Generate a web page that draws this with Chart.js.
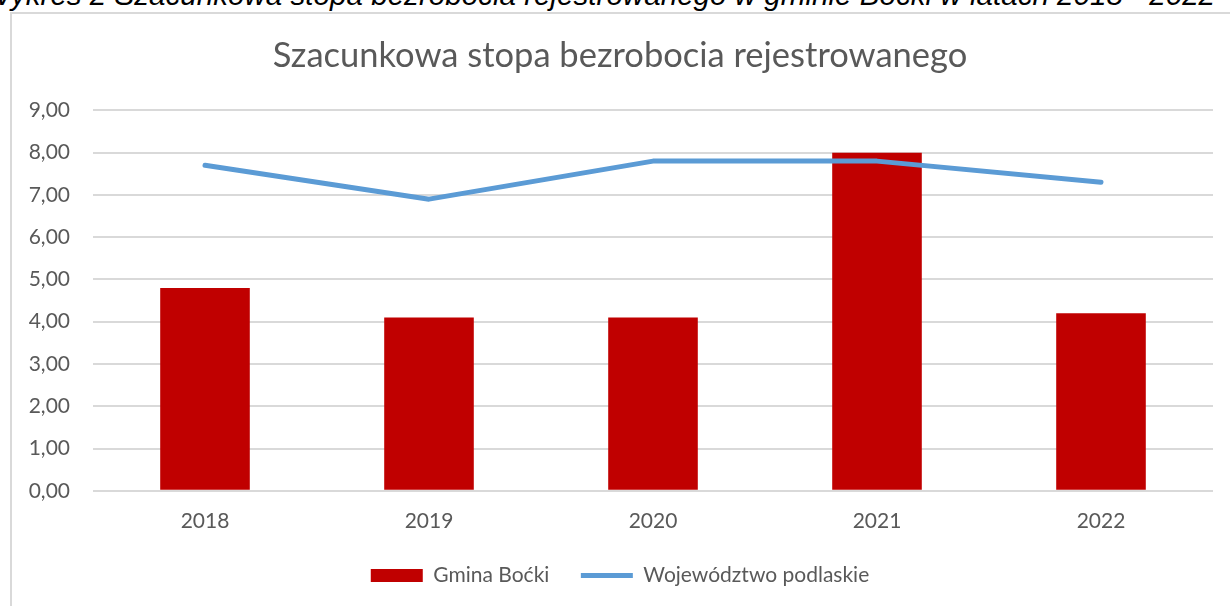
<!DOCTYPE html>
<html lang="pl">
<head>
<meta charset="utf-8">
<script src="https://cdn.jsdelivr.net/npm/chart.js@4"></script>
<style>
  html, body { margin: 0; padding: 0; background: #fff; overflow: hidden; width: 1230px; height: 606px; }
  .caption {
    position: absolute; left: -17px; top: -20px; white-space: nowrap;
    font: italic 29.6px/30px "Liberation Sans", Arial, sans-serif; color: #000;
  }
  .frame {
    position: absolute; left: 10px; top: 12px; width: 1240px; height: 610px;
    border: 2px solid #d9d9d9; box-sizing: border-box;
  }
  .frame canvas { display: block; }
</style>
</head>
<body>
<div class="caption">Wykres 2 Szacunkowa stopa bezrobocia rejestrowanego w gminie Boćki w latach 2018 - 2022</div>
<div class="frame"><canvas id="chart" width="1236" height="606"></canvas></div>
<script>
const years = ['2018', '2019', '2020', '2021', '2022'];
const gminaBocki = [4.8, 4.1, 4.1, 8.0, 4.2];
const podlaskie = [7.7, 6.9, 7.8, 7.8, 7.3];
const yTicks = [0, 1, 2, 3, 4, 5, 6, 7, 8, 9];

const FONT = 'Lato, "Open Sans", sans-serif';
const GREY = '#595959';

new Chart(document.getElementById('chart'), {
  data: {
    labels: years,
    datasets: [
      {
        type: 'line',
        label: 'Województwo podlaskie',
        data: podlaskie,
        borderColor: '#5b9bd5',
        backgroundColor: '#5b9bd5',
        borderWidth: 5,
        borderCapStyle: 'round',
        borderJoinStyle: 'round',
        pointRadius: 0,
        pointStyle: 'line',
        tension: 0,
        order: 0
      },
      {
        type: 'bar',
        label: 'Gmina Boćki',
        data: gminaBocki,
        backgroundColor: '#c00000',
        borderWidth: 0,
        pointStyle: 'rect',
        categoryPercentage: 1,
        barPercentage: 0.4,
        order: 1
      }
    ]
  },
  options: {
    responsive: false,
    animation: false,
    layout: { padding: { left: 15, right: 35, top: 14, bottom: 24 } },
    plugins: {
      title: {
        display: true,
        text: 'Szacunkowa stopa bezrobocia rejestrowanego',
        color: GREY,
        font: { family: FONT, size: 34.5, weight: 'normal' },
        padding: { top: 7, bottom: 34 }
      },
      legend: {
        position: 'bottom',
        reverse: true,
        labels: {
          color: GREY,
          font: { family: FONT, size: 21 },
          usePointStyle: true,
          pointStyleWidth: 52,
          boxHeight: 13,
          padding: 21,
          // small vertical padding keeps the legend close to the axis,
          // an em space after the first entry keeps the wide gap between entries
          generateLabels: chart => {
            const items = Chart.defaults.plugins.legend.labels.generateLabels(chart);
            items.forEach(item => {
              if (item.datasetIndex === 1) item.text += '\u2002';
            });
            return items;
          }
        }
      },
      tooltip: { enabled: false }
    },
    scales: {
      x: {
        grid: { display: false },
        border: { display: false },
        ticks: { color: GREY, font: { family: FONT, size: 21 }, padding: 10 }
      },
      y: {
        min: 0,
        max: 9,
        afterBuildTicks: axis => { axis.ticks = yTicks.map(v => ({ value: v })); },
        afterFit: axis => { axis.width = 66; },
        grid: { color: '#d9d9d9', lineWidth: 2, drawTicks: false },
        border: { display: false },
        ticks: {
          color: GREY,
          font: { family: FONT, size: 21 },
          padding: 23,
          callback: v => v.toFixed(2).replace('.', ',')
        }
      }
    }
  }
});
</script>
</body>
</html>
